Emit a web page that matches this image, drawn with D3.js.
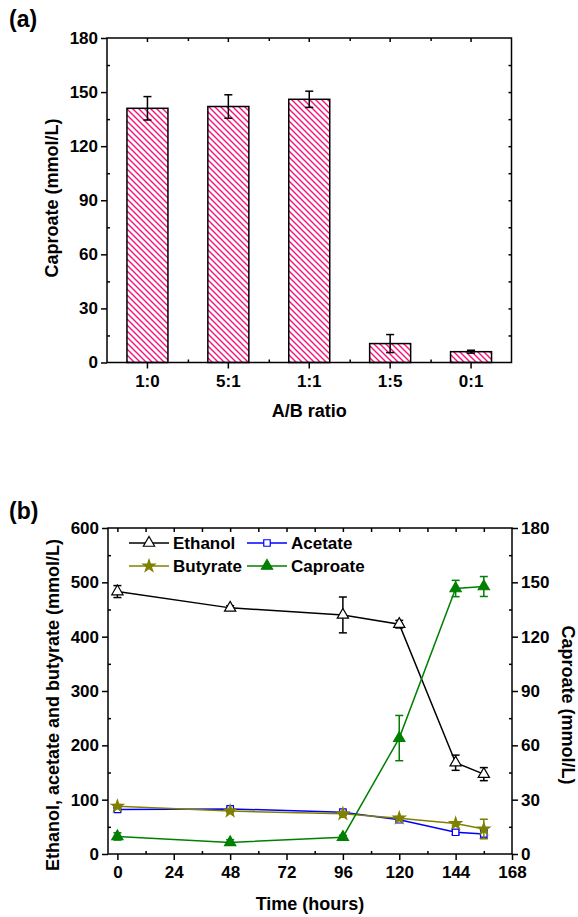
<!DOCTYPE html>
<html>
<head>
<meta charset="utf-8">
<script src="https://cdn.jsdelivr.net/npm/d3@7"></script>
<style>
  body { margin: 0; background: #fff; }
  svg { display: block; font-family: "Liberation Sans", Arial, sans-serif; font-weight: bold; }
  .axis text { font-size: 17px; font-weight: bold; font-family: "Liberation Sans", Arial, sans-serif; }
  .axis path, .axis line { stroke: #000; stroke-width: 1.5; }
</style>
</head>
<body>
<svg width="578" height="917"></svg>
<script>
// ---- data (a) ----
const ratios = ["1:0", "5:1", "1:1", "1:5", "0:1"];
const ratioCaproate = [141, 142, 146, 10.5, 6];
const ratioCaproateErr = [6.5, 6.5, 4.5, 5, 0.8];
const ticksA = [0, 30, 60, 90, 120, 150, 180];

// ---- data (b) ----
const hours = [0, 48, 96, 120, 144, 156];
const ethanol = [483, 453, 440, 423, 168, 147];
const ethanolErr = [11, 4, 33, 7, 14, 12];
const acetate = [82, 83, 77, 63, 40, 37];
const acetateErr = [3, 3, 3, 3, 4, 8];
const butyrate = [88, 79, 74, 66, 56, 46];
const butyrateErr = [3, 3, 3, 3, 3, 18];
const caproate = [9.7, 6.4, 9.3, 64, 146.6, 147.7];
const caproateErr = [2, 1.5, 1, 12.5, 4.5, 5.5];
const timeTicks = [0, 24, 48, 72, 96, 120, 144, 168];
const leftTicks = [0, 100, 200, 300, 400, 500, 600];
const rightTicks = [0, 30, 60, 90, 120, 150, 180];

const svg = d3.select("svg");

// hatch pattern for bars
const defs = svg.append("defs");
const pat = defs.append("pattern")
    .attr("id", "hatch")
    .attr("patternUnits", "userSpaceOnUse")
    .attr("width", 6).attr("height", 6);
pat.append("rect").attr("width", 6).attr("height", 6).attr("fill", "#fff");
pat.append("path")
    .attr("d", "M0,0L6,6M-1,5L1,7M5,-1L7,1")
    .attr("stroke", "#f5127f")
    .attr("stroke-width", 1.4);

function frame(g, x0, x1, y0, y1) {
    g.append("rect")
        .attr("x", x0).attr("y", y0)
        .attr("width", x1 - x0).attr("height", y1 - y0)
        .attr("fill", "none").attr("stroke", "#000").attr("stroke-width", 1.5);
}

function minorTicks(g, axis, transform) {
    g.append("g").attr("class", "axis").attr("transform", transform)
        .call(axis.tickFormat("").tickSizeOuter(0))
        .call(s => s.select(".domain").remove());
}

// ================= panel (a) =================
const a = svg.append("g");
const ax0 = 107, ax1 = 511.5, ay0 = 38, ay1 = 362.5;

const xA = d3.scaleBand().domain(ratios).range([ax0, ax1]).padding(0);
const yA = d3.scaleLinear().domain([0, 180]).range([ay1, ay0]);
const barW = 41;

a.selectAll("rect.bar")
    .data(ratios)
    .join("rect")
    .attr("class", "bar")
    .attr("x", d => xA(d) + xA.bandwidth() / 2 - barW / 2)
    .attr("y", (d, i) => yA(ratioCaproate[i]))
    .attr("width", barW)
    .attr("height", (d, i) => yA(0) - yA(ratioCaproate[i]))
    .attr("fill", "url(#hatch)")
    .attr("stroke", "#000")
    .attr("stroke-width", 1.5);

// error bars
ratios.forEach((r, i) => {
    const cx = xA(r) + xA.bandwidth() / 2;
    const top = yA(ratioCaproate[i] + ratioCaproateErr[i]);
    const bot = yA(ratioCaproate[i] - ratioCaproateErr[i]);
    const eg = a.append("g").attr("stroke", "#000").attr("stroke-width", 1.5);
    eg.append("line").attr("x1", cx).attr("x2", cx).attr("y1", top).attr("y2", bot);
    eg.append("line").attr("x1", cx - 4).attr("x2", cx + 4).attr("y1", top).attr("y2", top);
    eg.append("line").attr("x1", cx - 4).attr("x2", cx + 4).attr("y1", bot).attr("y2", bot);
});

frame(a, ax0, ax1, ay0, ay1);

a.append("g").attr("class", "axis").attr("transform", `translate(${ax0},0)`)
    .call(d3.axisLeft(yA).tickValues(ticksA).tickSize(6).tickPadding(3).tickSizeOuter(0))
    .call(s => s.select(".domain").remove());
minorTicks(a, d3.axisLeft(yA).tickValues(d3.range(15, 180, 30)).tickSize(-3), `translate(${ax0},0)`);
minorTicks(a, d3.axisRight(yA).tickValues(d3.range(15, 180, 15)).tickSize(-3), `translate(${ax1},0)`);

a.append("g").attr("class", "axis").attr("transform", `translate(0,${ay1})`)
    .call(d3.axisBottom(xA).tickSize(6).tickPadding(6).tickSizeOuter(0))
    .call(s => s.select(".domain").remove());
const bounds = d3.scaleLinear().domain([0, 5]).range([ax0, ax1]);
minorTicks(a, d3.axisBottom(bounds).tickValues([1, 2, 3, 4]).tickSize(-3), `translate(0,${ay1})`);
minorTicks(a, d3.axisTop(xA).tickSize(-4), `translate(0,${ay0})`);
minorTicks(a, d3.axisTop(bounds).tickValues([1, 2, 3, 4]).tickSize(-3), `translate(0,${ay0})`);

a.append("text")
    .attr("transform", `translate(58,198) rotate(-90)`)
    .attr("text-anchor", "middle")
    .attr("font-size", 18)
    .text("Caproate (mmol/L)");

a.append("text")
    .attr("x", (ax0 + ax1) / 2).attr("y", 417)
    .attr("text-anchor", "middle")
    .attr("font-size", 18)
    .text("A/B ratio");

svg.append("text").attr("x", 9).attr("y", 27).attr("font-size", 23).text("(a)");

// ================= panel (b) =================
const b = svg.append("g");
const bx0 = 108, bx1 = 512, by0 = 528, by1 = 854;

const xB = d3.scaleLinear().domain([-4, 168]).range([bx0, bx1]);
const yL = d3.scaleLinear().domain([0, 600]).range([by1, by0]);
const yR = d3.scaleLinear().domain([0, 180]).range([by1, by0]);

const series = [
    { name: "Ethanol", values: ethanol, err: ethanolErr, color: "#000", scale: yL,
      symbol: d3.symbolTriangle, size: 55, fill: "#fff" },
    { name: "Acetate", values: acetate, err: acetateErr, color: "#0000ff", scale: yL,
      symbol: d3.symbolSquare, size: 42, fill: "#fff" },
    { name: "Butyrate", values: butyrate, err: butyrateErr, color: "#808000", scale: yL,
      symbol: d3.symbolStar, size: 45, fill: "#808000" },
    { name: "Caproate", values: caproate, err: caproateErr, color: "#008000", scale: yR,
      symbol: d3.symbolTriangle, size: 55, fill: "#008000" }
];

series.forEach(s => {
    const pts = hours.map((h, i) => ({ h, v: s.values[i], e: s.err[i] }));
    const line = d3.line().x(d => xB(d.h)).y(d => s.scale(d.v));
    const g = b.append("g");
    g.append("path").datum(pts)
        .attr("fill", "none").attr("stroke", s.color).attr("stroke-width", 1.5)
        .attr("d", line);
    pts.forEach(d => {
        const cx = xB(d.h), top = s.scale(d.v + d.e), bot = s.scale(d.v - d.e);
        const eg = g.append("g").attr("stroke", s.color).attr("stroke-width", 1.5);
        eg.append("line").attr("x1", cx).attr("x2", cx).attr("y1", top).attr("y2", bot);
        eg.append("line").attr("x1", cx - 4).attr("x2", cx + 4).attr("y1", top).attr("y2", top);
        eg.append("line").attr("x1", cx - 4).attr("x2", cx + 4).attr("y1", bot).attr("y2", bot);
    });
    g.selectAll("path.mark").data(pts).join("path")
        .attr("class", "mark")
        .attr("transform", d => `translate(${xB(d.h)},${s.scale(d.v)})`)
        .attr("d", d3.symbol(s.symbol, s.size))
        .attr("fill", s.fill).attr("stroke", s.color).attr("stroke-width", 1.2);
});

frame(b, bx0, bx1, by0, by1);

b.append("g").attr("class", "axis").attr("transform", `translate(${bx0},0)`)
    .call(d3.axisLeft(yL).tickValues(leftTicks).tickSize(6).tickPadding(3).tickSizeOuter(0))
    .call(s => s.select(".domain").remove());
minorTicks(b, d3.axisLeft(yL).tickValues(d3.range(50, 600, 100)).tickSize(-3), `translate(${bx0},0)`);

b.append("g").attr("class", "axis").attr("transform", `translate(${bx1},0)`)
    .call(d3.axisRight(yR).tickValues(rightTicks).tickSize(6).tickPadding(3).tickSizeOuter(0))
    .call(s => s.select(".domain").remove());
minorTicks(b, d3.axisRight(yR).tickValues(d3.range(15, 180, 30)).tickSize(-3), `translate(${bx1},0)`);

b.append("g").attr("class", "axis").attr("transform", `translate(0,${by1})`)
    .call(d3.axisBottom(xB).tickValues(timeTicks).tickSize(6).tickPadding(6).tickSizeOuter(0))
    .call(s => s.select(".domain").remove());
minorTicks(b, d3.axisBottom(xB).tickValues(d3.range(12, 168, 24)).tickSize(-3), `translate(0,${by1})`);
minorTicks(b, d3.axisTop(xB).tickValues(d3.range(0, 168, 12)).tickSize(-4), `translate(0,${by0})`);

b.append("text")
    .attr("transform", `translate(59,705) rotate(-90)`)
    .attr("text-anchor", "middle")
    .attr("font-size", 18)
    .text("Ethanol, acetate and butyrate (mmol/L)");

b.append("text")
    .attr("transform", `translate(562,705) rotate(90)`)
    .attr("text-anchor", "middle")
    .attr("font-size", 18)
    .text("Caproate (mmol/L)");

b.append("text")
    .attr("x", (bx0 + bx1) / 2).attr("y", 910)
    .attr("text-anchor", "middle")
    .attr("font-size", 18)
    .text("Time (hours)");

svg.append("text").attr("x", 9).attr("y", 519).attr("font-size", 23).text("(b)");

// legend
const legendPos = [[129, 543], [247, 543], [129, 566], [247, 566]];
series.forEach((s, i) => {
    const [lx, ly] = legendPos[i];
    const lg = b.append("g").attr("transform", `translate(${lx},${ly})`);
    lg.append("line").attr("x1", 0).attr("x2", 40).attr("y1", 0).attr("y2", 0)
        .attr("stroke", s.color).attr("stroke-width", 1.5);
    lg.append("path").attr("transform", "translate(20,0)")
        .attr("d", d3.symbol(s.symbol, s.size))
        .attr("fill", s.fill).attr("stroke", s.color).attr("stroke-width", 1.2);
    lg.append("text").attr("x", 44).attr("y", 0).attr("dy", "0.36em")
        .attr("font-size", 17).text(s.name);
});
</script>
</body>
</html>
